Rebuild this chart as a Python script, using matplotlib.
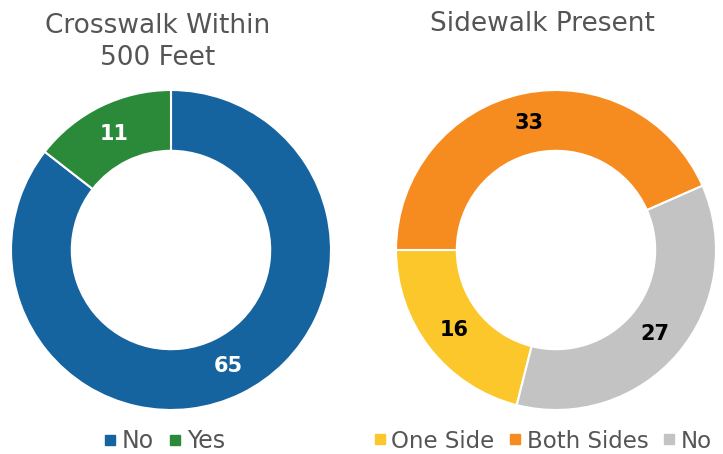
import matplotlib
matplotlib.use("Agg")
import matplotlib.pyplot as plt
from matplotlib.lines import Line2D
import numpy as np

plt.rcParams['font.family'] = ['DejaVu Sans']

# Data
left_title = "Crosswalk Within\n500 Feet"
left_labels = ["No", "Yes"]
left_values = [65, 11]
left_colors = ["#15639f", "#2b8a3a"]

right_title = "Sidewalk Present"
right_labels = ["One Side", "Both Sides", "No"]
right_values = [16, 33, 27]
right_colors = ["#fbc72b", "#f68c1f", "#c3c3c3"]

W, H = 723, 454
fig = plt.figure(figsize=(W / 100, H / 100), dpi=100)

R_OUT = 160
RING = 0.38

def donut(cx, cy, values, colors, startangle, txtcolor):
    ax = fig.add_axes([(cx - R_OUT) / W, (H - cy - R_OUT) / H, 2 * R_OUT / W, 2 * R_OUT / H])
    wedges, _ = ax.pie(values, colors=colors, startangle=startangle, counterclock=False,
                       radius=1.0, wedgeprops=dict(width=RING, edgecolor="white", linewidth=1.5))
    rmid = 1.0 - RING / 2
    for w, v in zip(wedges, values):
        ang = np.deg2rad((w.theta1 + w.theta2) / 2)
        ax.text(rmid * np.cos(ang), rmid * np.sin(ang), str(v), ha="center", va="center",
                fontsize=15, fontweight="bold", color=txtcolor)
    ax.set_xlim(-1, 1)
    ax.set_ylim(-1, 1)
    ax.set_aspect("equal")
    ax.axis("off")
    return ax

donut(171, 250, left_values, left_colors, 90, "white")
right_start = 180 + right_values[0] / sum(right_values) * 360
donut(556, 250, right_values, right_colors, right_start, "black")

title_color = "#555555"
fig.text(158 / W, 1 - 42 / H, left_title, ha="center", va="center", fontsize=19,
         color=title_color, linespacing=1.3)
fig.text(542 / W, 1 - 24 / H, right_title, ha="center", va="center", fontsize=19,
         color=title_color)

def make_handles(labels, colors):
    return [Line2D([0], [0], marker="s", linestyle="none", markersize=7.5,
                   markerfacecolor=c, markeredgecolor=c, label=l) for l, c in zip(labels, colors)]

common = dict(frameon=False, handletextpad=0.1, columnspacing=0.5,
              handlelength=0.8, labelcolor=title_color, borderpad=0.4)
leg1 = fig.legend(handles=make_handles(left_labels, left_colors), loc="center",
                  bbox_to_anchor=(163 / W, 1 - 441 / H), ncol=2, fontsize=17, **common)
leg2 = fig.legend(handles=make_handles(right_labels, right_colors), loc="center left",
                  bbox_to_anchor=(350 / W, 1 - 441 / H), ncol=3, fontsize=16.5, **common)

fig.savefig("out.png", dpi=100)
